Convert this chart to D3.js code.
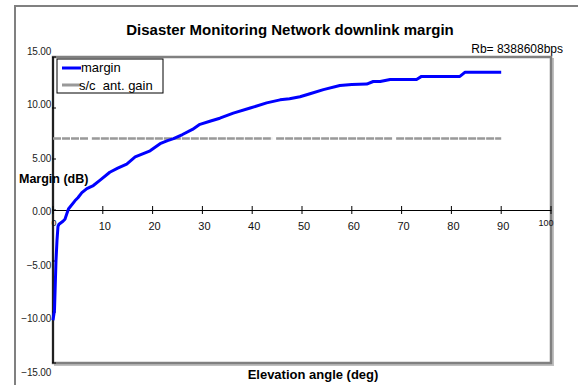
<!DOCTYPE html>
<html>
<head>
<meta charset="utf-8">
<script src="https://cdn.jsdelivr.net/npm/d3@7"></script>
<style>
  body { margin: 0; background: #fff; }
  text { font-family: "Liberation Sans", Arial, sans-serif; }
</style>
</head>
<body>
<div id="chart"></div>
<script>
// elevation (deg) vs downlink margin (dB)
const elevation = [0, 0.3, 0.6, 0.8, 1.0, 1.2, 2.0, 2.4, 3.1, 4.4, 5.0, 5.8, 6.8, 8.1, 9.4, 11.4, 13, 14.8, 16.5, 18, 19.5, 21.5, 23, 24.2, 26, 28, 29.5, 31.5, 33.5, 36.2, 39.6, 42.9, 45.6, 47.5, 49.6, 51.6, 54.3, 57.6, 60, 63, 64.3, 65.7, 67.7, 73, 74, 81.7, 82.7, 90];
const margin = [-10.8, -9.8, -5.0, -3.0, -1.6, -1.4, -1.1, -0.9, 0.1, 0.9, 1.2, 1.7, 2.1, 2.4, 2.9, 3.7, 4.1, 4.5, 5.2, 5.5, 5.8, 6.5, 6.8, 7.0, 7.4, 7.9, 8.4, 8.7, 9.0, 9.5, 10.0, 10.5, 10.8, 10.9, 11.1, 11.4, 11.8, 12.2, 12.3, 12.35, 12.6, 12.6, 12.8, 12.8, 13.1, 13.1, 13.5, 13.5];
// s/c antenna gain, with breaks (null) where the series had gaps
const gainElev = [0, 7.1, 7.3, 7.8, 44.0, 44.3, 44.8, 68.1, 68.4, 68.9, 90];
const gain = [7.0, 7.0, null, 7.0, 7.0, null, 7.0, 7.0, null, 7.0, 7.0];
const xTicks = [0, 10, 20, 30, 40, 50, 60, 70, 80, 90, 100];
const yTicks = [15, 10, 5, 0, -5, -10, -15];

const W = 578, H = 385;
const plot = { left: 53, top: 57, right: 551, bottom: 363 };

const svg = d3.select('#chart').append('svg')
  .attr('width', W)
  .attr('height', H);

// outer chart border (only left and top are inside the window)
svg.append('path')
  .attr('d', `M15,${H} L15,6 L${W},6`)
  .style('fill', 'none')
  .style('stroke', '#808080')
  .style('stroke-width', 2);

svg.append('text')
  .text('Disaster Monitoring Network downlink margin')
  .attr('x', 290)
  .attr('y', 35)
  .attr('text-anchor', 'middle')
  .style('font-weight', 'bold')
  .style('font-size', '15px');

svg.append('text')
  .text('Rb= 8388608bps')
  .attr('x', 563)
  .attr('y', 53)
  .attr('text-anchor', 'end')
  .style('font-size', '12px');

const x = d3.scaleLinear().domain([0, 100]).range([plot.left, plot.right]);
const y = d3.scaleLinear().domain([-15, 15]).range([plot.bottom, plot.top]);
// tick labels sit a little wider apart than the ticks themselves
const yLab = d3.scaleLinear().domain([-15, 15]).range([372, 51]);

// plot frame with a light shadow
svg.append('rect')
  .attr('x', plot.left + 2).attr('y', plot.top + 2)
  .attr('width', plot.right - plot.left).attr('height', plot.bottom - plot.top)
  .style('fill', 'none').style('stroke', '#c0c0c0').style('stroke-width', 2);
svg.append('rect')
  .attr('x', plot.left).attr('y', plot.top)
  .attr('width', plot.right - plot.left).attr('height', plot.bottom - plot.top)
  .style('fill', '#fff').style('stroke', '#808080').style('stroke-width', 2.5);

// y axis
svg.append('line')
  .attr('x1', plot.left).attr('x2', plot.left)
  .attr('y1', plot.top).attr('y2', plot.bottom)
  .style('stroke', '#000').style('stroke-width', 1.5);
const yAxis = svg.append('g').classed('axis y', true);
yAxis.selectAll('line.tick').data(yTicks).join('line')
  .attr('x1', plot.left - 1).attr('x2', plot.left + 3)
  .attr('y1', d => y(d)).attr('y2', d => y(d))
  .style('stroke', '#000');
yAxis.selectAll('text').data(yTicks).join('text')
  .text(d => d3.format('.2f')(d))
  .attr('x', plot.left - 2)
  .attr('y', d => yLab(d))
  .attr('dy', '0.35em')
  .attr('text-anchor', 'end')
  .style('font-size', '10px')
  .style('letter-spacing', '-0.2px')
  .style('fill', '#222');

// x axis along zero
const xAxis = svg.append('g')
  .attr('transform', `translate(0,${y(0)})`)
  .call(d3.axisBottom(x).tickValues(xTicks).tickSize(0).tickFormat(''));
xAxis.select('.domain').style('stroke', '#000').style('stroke-width', 1.2);
xAxis.selectAll('line.tk').data(xTicks).join('line')
  .classed('tk', true)
  .attr('x1', d => x(d)).attr('x2', d => x(d))
  .attr('y1', -4).attr('y2', 4)
  .style('stroke', '#000');
xAxis.selectAll('text.lab').data(xTicks).join('text')
  .classed('lab', true)
  .text(d => d)
  .attr('x', d => d === 100 ? x(d) - 5 : d === 0 ? x(d) + 1 : x(d) + 2)
  .attr('y', d => (d === 0 || d === 100) ? 16 : 20)
  .attr('text-anchor', 'middle')
  .style('font-size', d => (d === 0 || d === 100) ? '9px' : '11px')
  .style('fill', '#111');

// series
const gainLine = d3.line()
  .defined((d, i) => gain[i] !== null)
  .x((d, i) => x(gainElev[i]))
  .y((d, i) => y(gain[i]));
svg.append('path')
  .datum(gainElev)
  .attr('d', gainLine)
  .style('fill', 'none')
  .style('stroke', '#999')
  .style('stroke-width', 2.5)
  .style('stroke-dasharray', '8,1');

const marginLine = d3.line()
  .x((d, i) => x(elevation[i]))
  .y((d, i) => y(margin[i]));
svg.append('path')
  .datum(elevation)
  .attr('d', marginLine)
  .style('fill', 'none')
  .style('stroke', '#0000ff')
  .style('stroke-width', 3)
  .style('stroke-linejoin', 'round');

// legend
const legend = svg.append('g').attr('transform', 'translate(57,59)');
legend.append('rect')
  .attr('width', 106).attr('height', 34)
  .style('fill', '#fff').style('stroke', '#000').style('stroke-width', 1);
const legendItems = [
  { label: 'margin', color: '#0000ff' },
  { label: 's/c\u00a0\u00a0ant. gain', color: '#999' }
];
legendItems.forEach((item, i) => {
  const row = legend.append('g').attr('transform', `translate(0,${i === 0 ? 8 : 26})`);
  row.append('line')
    .attr('x1', 5).attr('x2', 24)
    .attr('y1', i === 0 ? 1 : 0).attr('y2', i === 0 ? 1 : 0)
    .style('stroke', item.color).style('stroke-width', 3);
  row.append('text')
    .text(item.label)
    .attr('x', i === 0 ? 24 : 22)
    .attr('dy', '0.35em')
    .style('font-size', '13px');
});

// axis titles
svg.append('text')
  .text('Margin (dB)')
  .attr('x', 19)
  .attr('y', 183)
  .style('font-weight', 'bold')
  .style('font-size', '12.5px');
svg.append('text')
  .text('Elevation angle (deg)')
  .attr('x', 313)
  .attr('y', 379)
  .attr('text-anchor', 'middle')
  .style('font-weight', 'bold')
  .style('font-size', '13px');
</script>
</body>
</html>
